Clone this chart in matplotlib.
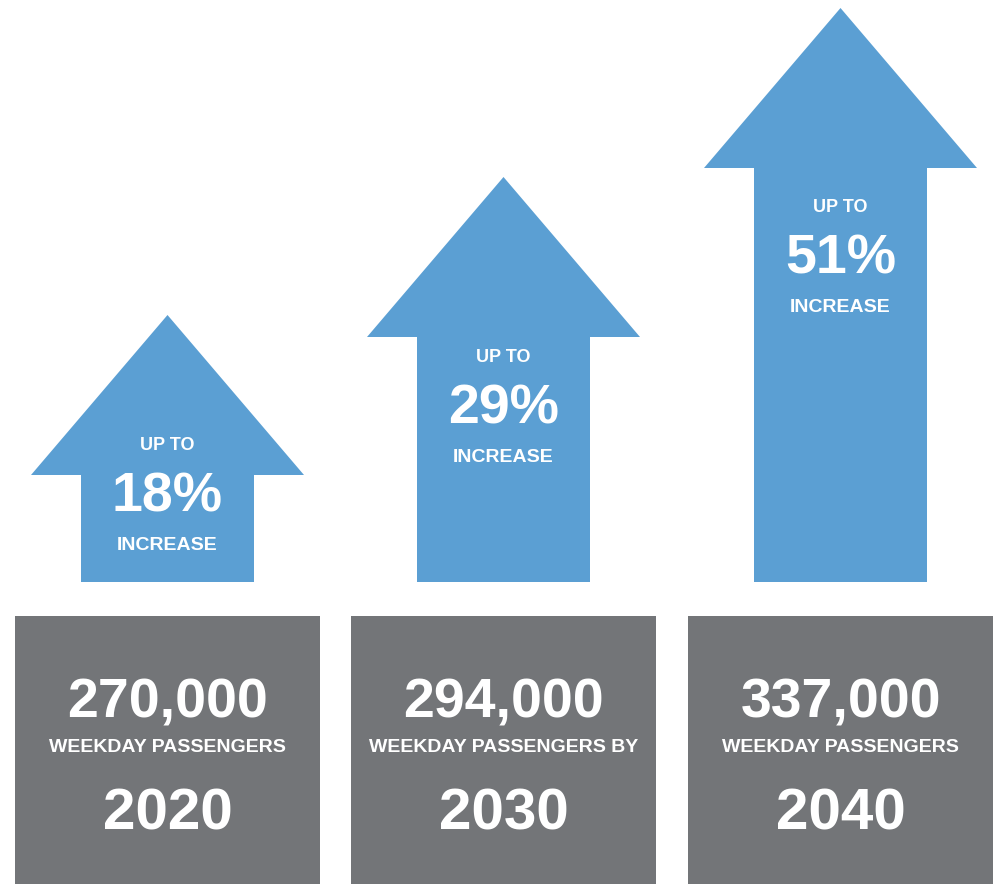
import matplotlib.pyplot as plt
from matplotlib.patches import Polygon, Rectangle

# data
years = ['2020', '2030', '2040']
passengers = ['270,000', '294,000', '337,000']
subtitles = ['WEEKDAY PASSENGERS', 'WEEKDAY PASSENGERS BY', 'WEEKDAY PASSENGERS']
increase_pct = [18, 29, 51]
arrow_heights = [267, 405, 574]   # arrow length above the base (px)

# layout (pixel-like units, y going up)
blue = '#5b9fd3'
gray = '#737578'
centers = [167.5, 503.5, 840.5]
box_w = 305
box_top = 268
arrow_base = 302
shaft_w = 173
head_w = 273
head_h = 160
pct_y = [387, 475, 625]

plt.rcParams['font.family'] = ['Liberation Sans', 'DejaVu Sans']

fig = plt.figure(figsize=(10, 8.84), dpi=100)
ax = fig.add_axes([0, 0, 1, 1])
ax.set_xlim(0, 1000)
ax.set_ylim(0, 884)
ax.axis('off')

for i, cx in enumerate(centers):
    # gray box with passenger numbers
    ax.add_patch(Rectangle((cx - box_w / 2, 0), box_w, box_top, color=gray, lw=0))
    ax.text(cx, 181, passengers[i], color='white', fontsize=40, fontweight='bold',
            ha='center', va='center')
    ax.text(cx, 137, subtitles[i], color='white', fontsize=14, fontweight='bold',
            ha='center', va='center')
    ax.text(cx, 70, years[i], color='white', fontsize=42, fontweight='bold',
            ha='center', va='center')

    # arrow
    tip = arrow_base + arrow_heights[i]
    hb = tip - head_h
    pts = [(cx - shaft_w / 2, arrow_base), (cx + shaft_w / 2, arrow_base),
           (cx + shaft_w / 2, hb), (cx + head_w / 2, hb), (cx, tip),
           (cx - head_w / 2, hb), (cx - shaft_w / 2, hb)]
    ax.add_patch(Polygon(pts, closed=True, color=blue, lw=0))
    py = pct_y[i]
    ax.text(cx, py + 52, 'UP TO', color='white', fontsize=13, fontweight='bold',
            ha='center', va='center')
    ax.text(cx, py, f'{increase_pct[i]}%', color='white', fontsize=40, fontweight='bold',
            ha='center', va='center')
    ax.text(cx, py - 48, 'INCREASE', color='white', fontsize=14, fontweight='bold',
            ha='center', va='center')

plt.savefig('out.png', dpi=100)
